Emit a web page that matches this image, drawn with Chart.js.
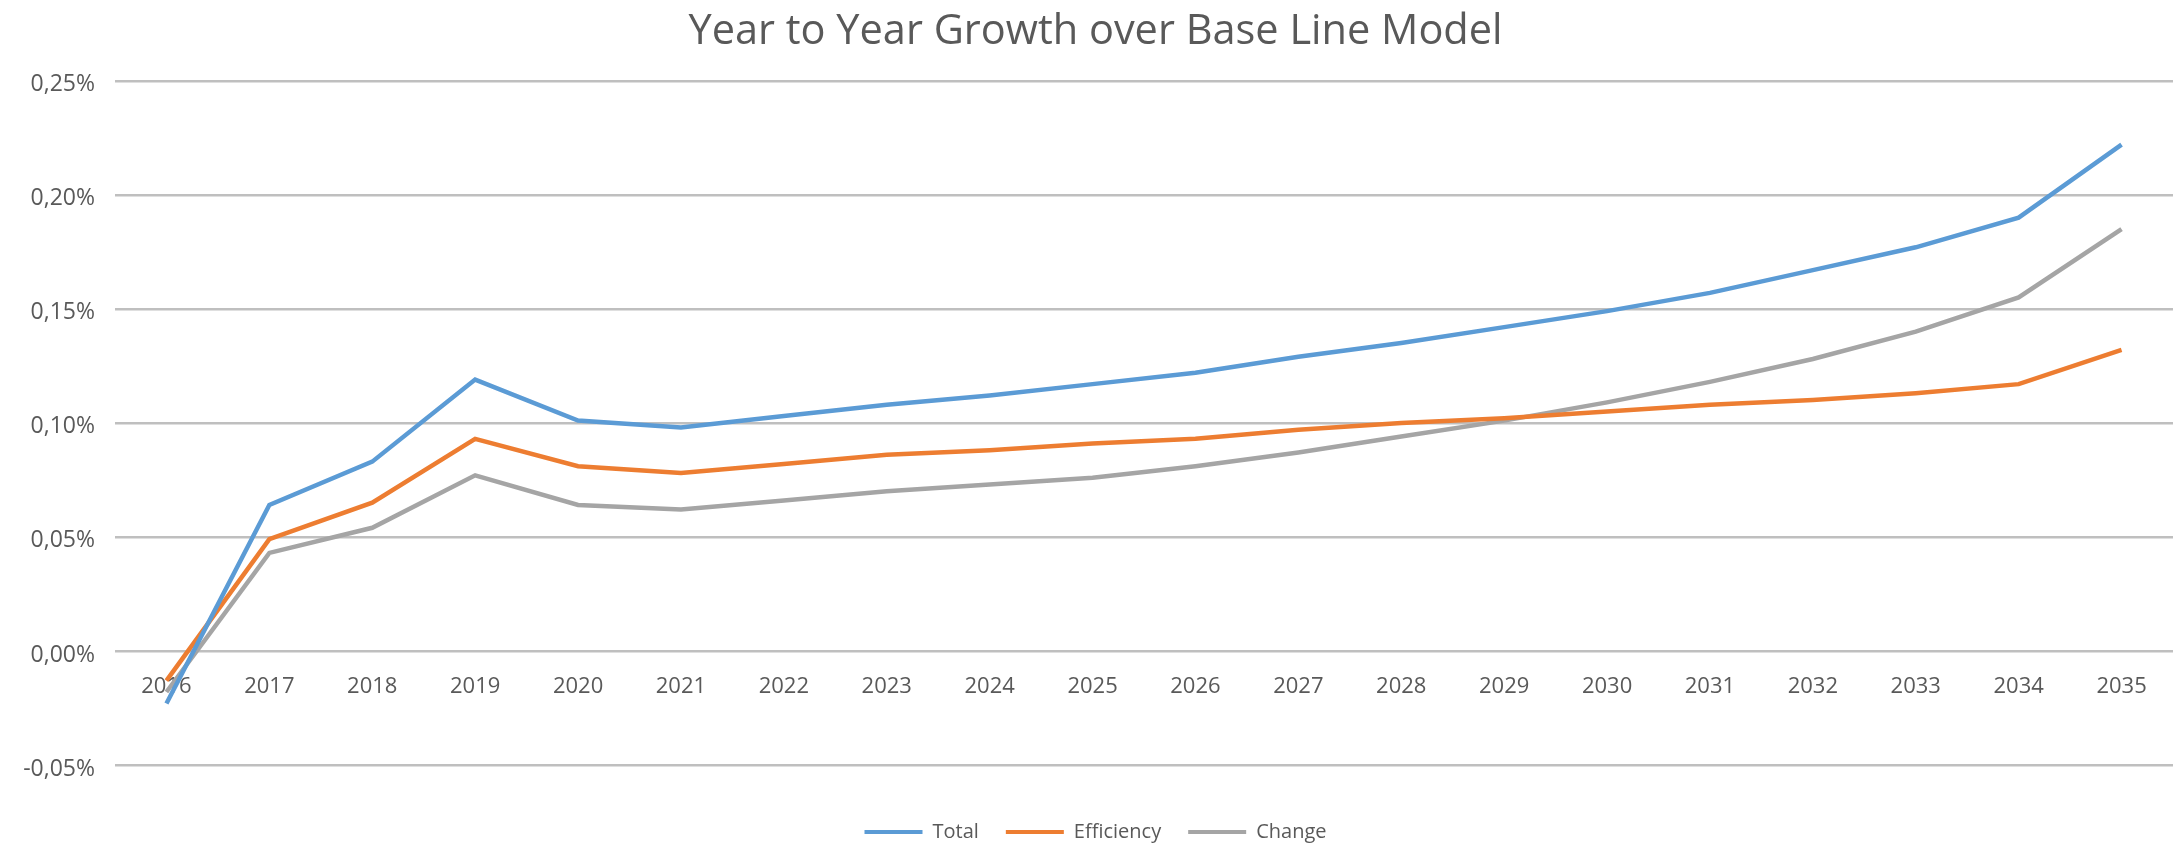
<!DOCTYPE html>
<html>
<head>
<meta charset="utf-8">
<title>Year to Year Growth over Base Line Model</title>
<script src="https://cdn.jsdelivr.net/npm/chart.js@4.4.1/dist/chart.umd.min.js"></script>
<style>
  html, body { margin: 0; padding: 0; background: #ffffff; }
  #wrap { position: relative; width: 2178px; height: 843px; }
</style>
</head>
<body>
<div id="wrap"><canvas id="chart"></canvas></div>
<script>
// Categories (years) and series values, in percent
const years = ['2016', '2017', '2018', '2019', '2020', '2021', '2022', '2023', '2024', '2025',
               '2026', '2027', '2028', '2029', '2030', '2031', '2032', '2033', '2034', '2035'];
const total = [-0.023, 0.064, 0.083, 0.119, 0.101, 0.098, 0.103, 0.108, 0.112, 0.117,
               0.122, 0.129, 0.135, 0.142, 0.149, 0.157, 0.167, 0.177, 0.190, 0.222];
const efficiency = [-0.013, 0.049, 0.065, 0.093, 0.081, 0.078, 0.082, 0.086, 0.088, 0.091,
                    0.093, 0.097, 0.100, 0.102, 0.105, 0.108, 0.110, 0.113, 0.117, 0.132];
const change = [-0.018, 0.043, 0.054, 0.077, 0.064, 0.062, 0.066, 0.070, 0.073, 0.076,
                0.081, 0.087, 0.094, 0.101, 0.109, 0.118, 0.128, 0.140, 0.155, 0.185];
const seriesNames = ['Total', 'Efficiency', 'Change'];
const yTicks = { min: -0.05, max: 0.25, step: 0.05 };

const textColor = '#595959';
const fontFamily = '"Open Sans", "Noto Sans", sans-serif';

// Percent label with a decimal comma; tiny float residue is treated as zero
function pctLabel(v) {
  const n = Math.abs(v) < 1e-9 ? 0 : v;
  return n.toFixed(2).replace('.', ',') + '%';
}

function lineSet(label, data, color) {
  return {
    label: label,
    data: data,
    borderColor: color,
    backgroundColor: color,
    borderWidth: 4.5,
    pointRadius: 0,
    pointHoverRadius: 0,
    tension: 0,
    fill: false
  };
}

new Chart(document.getElementById('chart'), {
  type: 'line',
  data: {
    labels: years,
    datasets: [
      lineSet(seriesNames[0], total, '#5B9BD5'),
      lineSet(seriesNames[1], efficiency, '#ED7D31'),
      lineSet(seriesNames[2], change, '#A5A5A5')
    ]
  },
  options: {
    responsive: true,
    maintainAspectRatio: false,
    animation: false,
    devicePixelRatio: 1,
    layout: { padding: { left: 18, right: 5, top: 0, bottom: -9 } },
    plugins: {
      title: {
        display: true,
        text: 'Year to Year Growth over Base Line Model',
        color: textColor,
        font: { family: fontFamily, size: 41.5, weight: 'normal' },
        padding: { top: 7, bottom: 24 }
      },
      legend: {
        display: true,
        position: 'bottom',
        title: { display: true, text: '', font: { size: 10 }, padding: { top: 18, bottom: 0 } },
        labels: {
          color: textColor,
          font: { family: fontFamily, size: 20 },
          boxWidth: 58,
          boxHeight: 4,
          padding: 27,
          generateLabels(chart) {
            return Chart.defaults.plugins.legend.labels.generateLabels(chart).map(item => {
              item.fillStyle = item.strokeStyle;
              item.lineWidth = 0;
              return item;
            });
          }
        }
      },
      tooltip: { enabled: false }
    },
    scales: {
      x: {
        type: 'category',
        position: { y: 0 },
        offset: true,
        grid: { display: false, drawTicks: false },
        border: { display: false },
        ticks: {
          color: textColor,
          font: { family: fontFamily, size: 22 },
          padding: 23,
          maxRotation: 0,
          autoSkip: false
        }
      },
      y: {
        type: 'linear',
        position: 'left',
        min: yTicks.min,
        max: yTicks.max,
        afterFit(scale) { scale.width = 97; },
        grid: { color: '#bfbfbf', lineWidth: 2.5, drawTicks: false },
        border: { display: false },
        ticks: {
          stepSize: yTicks.step,
          color: textColor,
          font: { family: fontFamily, size: 23 },
          padding: 20,
          labelOffset: 4,
          callback: v => pctLabel(v)
        }
      }
    }
  }
});
</script>
</body>
</html>
